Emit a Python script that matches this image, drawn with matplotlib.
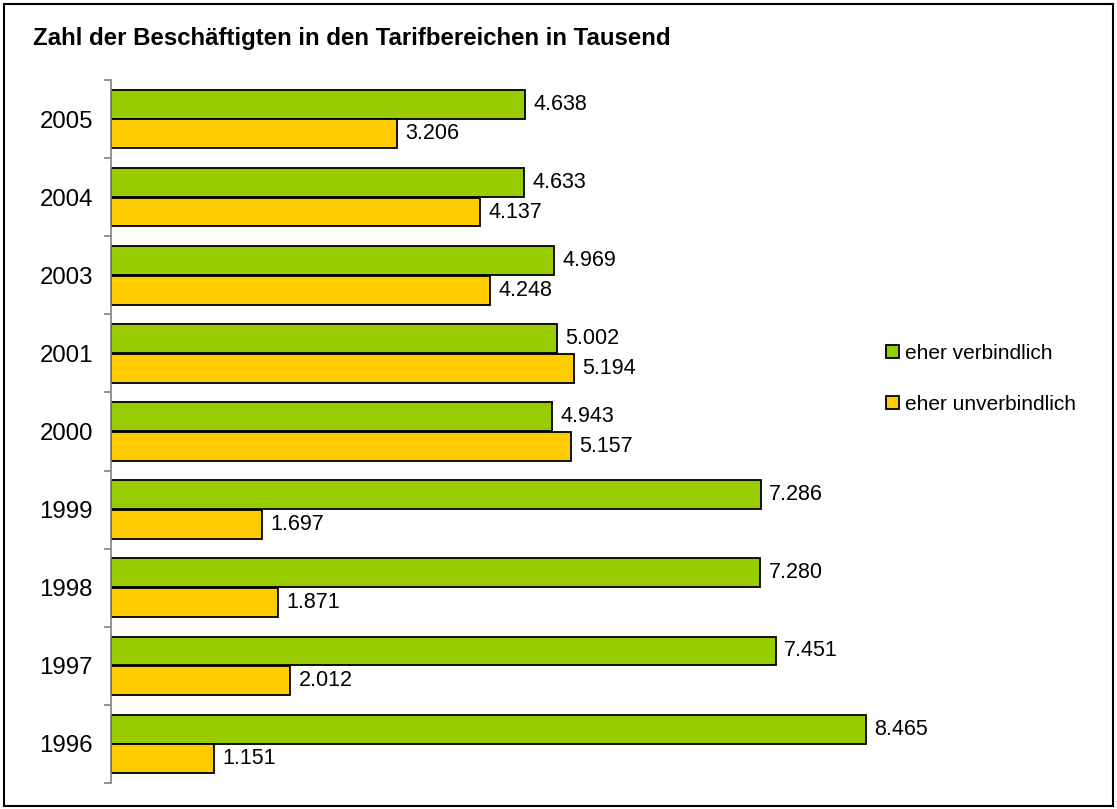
import matplotlib
matplotlib.use("Agg")
import matplotlib.pyplot as plt
import numpy as np
from matplotlib.patches import Patch, Rectangle

plt.rcParams['font.family'] = ['Liberation Sans', 'DejaVu Sans']

# Daten (in Tausend)
jahre = ['2005', '2004', '2003', '2001', '2000', '1999', '1998', '1997', '1996']
verbindlich = [4.638, 4.633, 4.969, 5.002, 4.943, 7.286, 7.280, 7.451, 8.465]
unverbindlich = [3.206, 4.137, 4.248, 5.194, 5.157, 1.697, 1.871, 2.012, 1.151]

gruen = '#99CC00'
gelb = '#FFCC00'

fig = plt.figure(figsize=(11.17, 8.09), dpi=100)
ax = fig.add_axes([111 / 1117, 26 / 809, 892 / 1117, 703 / 809])

# oberste Kategorie oben
y = np.arange(len(jahre))[::-1]
h = 0.37
b1 = ax.barh(y + 0.19, verbindlich, height=h, color=gruen, edgecolor='black', linewidth=1.3, label='eher verbindlich')
b2 = ax.barh(y - 0.19, unverbindlich, height=h, color=gelb, edgecolor='black', linewidth=1.3, label='eher unverbindlich')

for bars, werte in [(b1, verbindlich), (b2, unverbindlich)]:
    for bar, v in zip(bars, werte):
        ax.annotate(f"{v:.3f}", (bar.get_width(), bar.get_y() + bar.get_height() / 2),
                    xytext=(6, 0), textcoords='offset points', va='center', ha='left', fontsize=15.5)

ax.set_xlim(0, 10)
ax.set_ylim(-0.5, len(jahre) - 0.5)

# Achse
for s in ['top', 'right', 'bottom']:
    ax.spines[s].set_visible(False)
ax.spines['left'].set_color('#808080')
ax.spines['left'].set_linewidth(1.2)
ax.set_xticks([])
ax.set_yticks(y)
ax.set_yticklabels(jahre, fontsize=17.3)
ax.tick_params(axis='y', which='major', length=0, pad=13)
ax.set_yticks(np.arange(len(jahre) + 1) - 0.5, minor=True)
ax.tick_params(axis='y', which='minor', length=5, width=1.2, color='#808080')

# Titel
fig.text(33 / 1117, 1 - 38 / 809, 'Zahl der Beschäftigten in den Tarifbereichen in Tausend',
         fontsize=17.3, fontweight='bold', va='center', ha='left')

# Legende
handles = [Patch(facecolor=gruen, edgecolor='black', linewidth=1.3),
           Patch(facecolor=gelb, edgecolor='black', linewidth=1.3)]
fig.legend(handles, ['eher verbindlich', 'eher unverbindlich'], loc='center left',
           bbox_to_anchor=(876 / 1117, 1 - 379 / 809), frameon=False, fontsize=15,
           handlelength=0.6, handleheight=0.6, handletextpad=0.3, labelspacing=1.55, borderpad=0)

# Rahmen
fig.patches.append(Rectangle((4 / 1117, 3 / 809), 1109 / 1117, 802 / 809, transform=fig.transFigure,
                             fill=False, edgecolor='black', linewidth=1.5))

fig.savefig('out.png', dpi=100)
